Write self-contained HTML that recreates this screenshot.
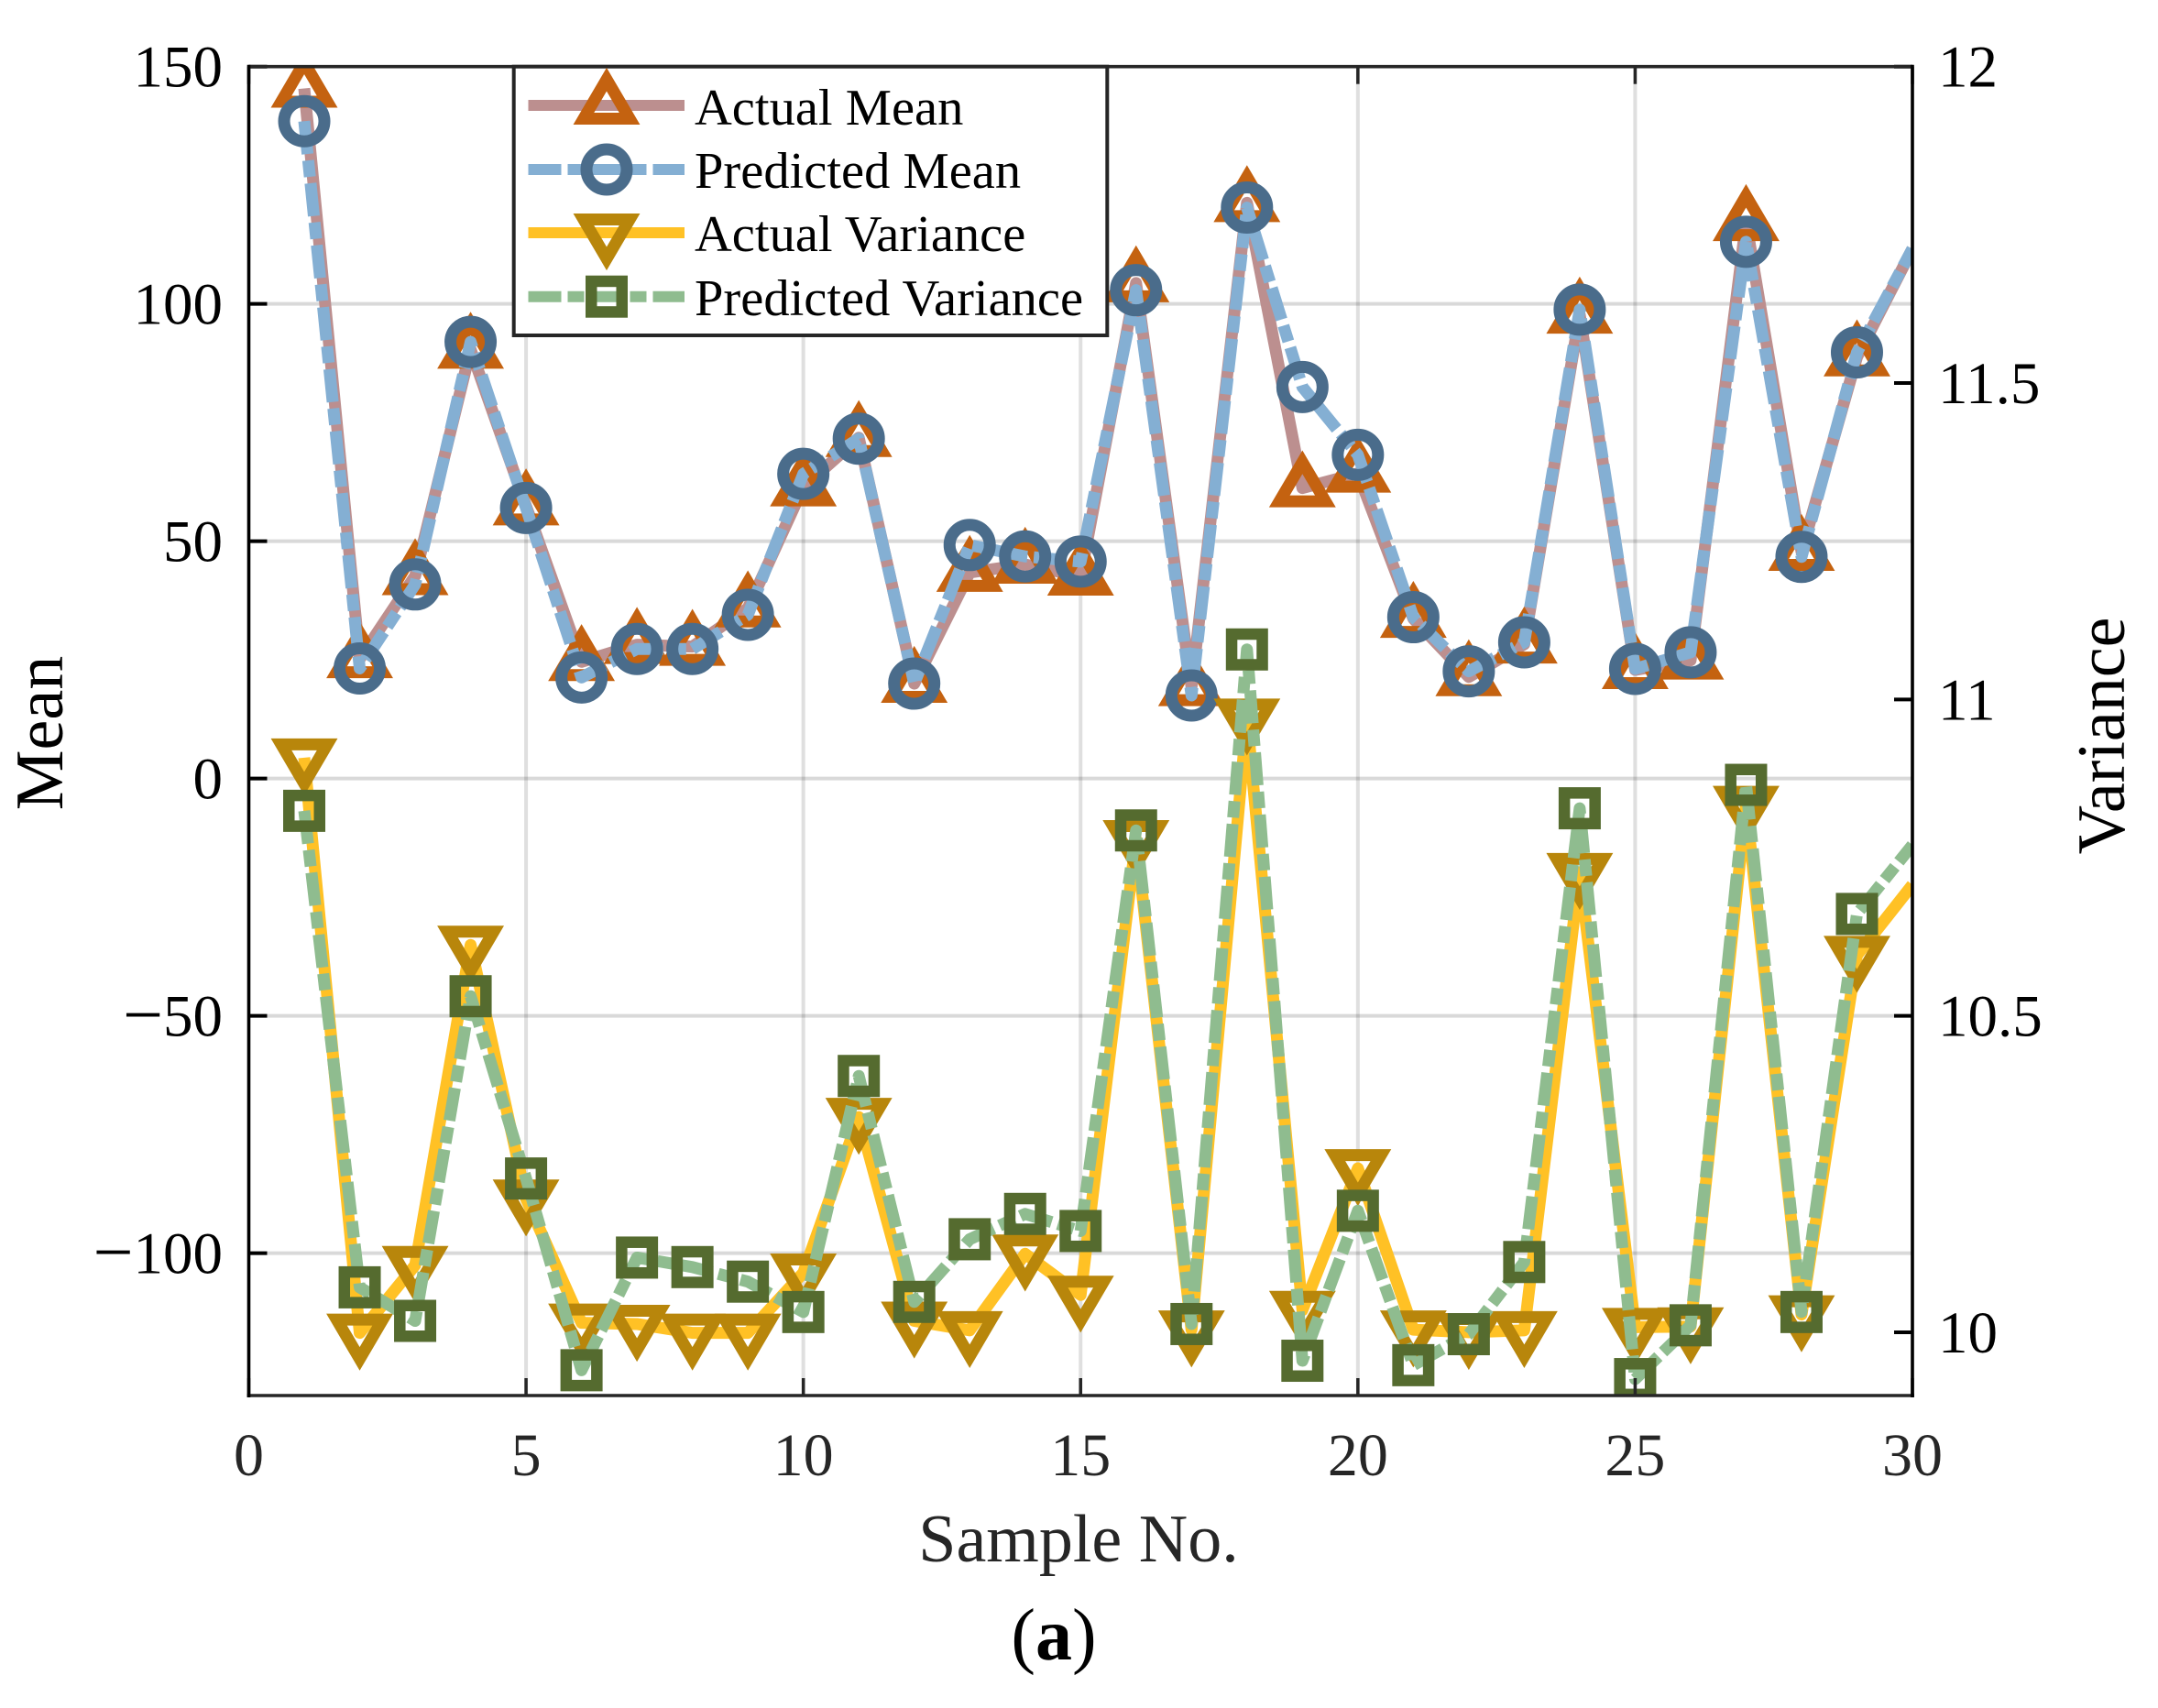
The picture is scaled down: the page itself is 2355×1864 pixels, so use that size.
<!DOCTYPE html>
<html lang="en">
<head>
<meta charset="utf-8">
<title>Mean and Variance by Sample</title>
<style>
html,body{margin:0;padding:0;background:#fff;}
svg{display:block;}
text{font-family:"Liberation Serif",serif;}
</style>
</head>
<body>
<svg id="chart" xmlns="http://www.w3.org/2000/svg" width="2355" height="1864" viewBox="0 0 2355 1864">
  <rect x="0" y="0" width="2355" height="1864" fill="#ffffff"/>
  <defs>
    <clipPath id="plot-clip"><rect x="271.5" y="72.7" width="1815.5" height="1450.3"/></clipPath>
  </defs>
  <g id="grid"></g>
  <g id="series" clip-path="url(#plot-clip)"></g>
  <g id="axes"></g>
  <g>
    <rect x="560.7" y="72.7" width="647.6" height="293.3" fill="#ffffff" stroke="#262626" stroke-width="4"/>
    <g>
      <line x1="576.5" x2="747" y1="115" y2="115" stroke="#bc8f8f" stroke-width="12"/>
      <polygon points="662,86.7 687.1,129.5 636.9,129.5" fill="none" stroke="#c46210" stroke-width="13" stroke-miterlimit="10"/>
      <text x="758" y="136" font-size="56.5" fill="#000">Actual Mean</text>
    </g>
    <g>
      <line x1="576.5" x2="747" y1="185" y2="185" stroke="#84afd3" stroke-width="12" stroke-dasharray="36 7 18 7"/>
      <circle cx="662" cy="185" r="22" fill="none" stroke="#4a6c8b" stroke-width="13"/>
      <text x="758" y="205" font-size="56.5" fill="#000">Predicted Mean</text>
    </g>
    <g>
      <line x1="576.5" x2="747" y1="254" y2="254" stroke="#ffc125" stroke-width="12"/>
      <polygon points="662,282.3 687.1,239.5 636.9,239.5" fill="none" stroke="#b8860b" stroke-width="13" stroke-miterlimit="10"/>
      <text x="758" y="274" font-size="56.5" fill="#000">Actual Variance</text>
    </g>
    <g>
      <line x1="576.5" x2="747" y1="323.7" y2="323.7" stroke="#8fbc8f" stroke-width="12" stroke-dasharray="36 7 18 7"/>
      <rect x="645.25" y="306.95" width="33.5" height="33.5" fill="none" stroke="#556b2f" stroke-width="12.5"/>
      <text x="758" y="344" font-size="56.5" fill="#000">Predicted Variance</text>
    </g>
  </g>
  <text x="1177" y="1704" font-size="74" text-anchor="middle" fill="#262626">Sample No.</text>
  <text transform="translate(68,800) rotate(-90)" font-size="74" text-anchor="middle" fill="#000">Mean</text>
  <text transform="translate(2318,803) rotate(-90)" font-size="74" text-anchor="middle" fill="#000">Variance</text>
  <text x="1150" y="1811" font-size="80" text-anchor="middle" fill="#000">(<tspan font-weight="bold">a</tspan>)</text>
</svg>
<script>
const xTicks = [0, 5, 10, 15, 20, 25, 30];
const meanTicks = [150, 100, 50, 0, -50, -100];
const varianceTicks = [12, 11.5, 11, 10.5, 10];
const varianceTickLabels = ['12', '11.5', '11', '10.5', '10'];
const samples = [1,2,3,4,5,6,7,8,9,10,11,12,13,14,15,16,17,18,19,20,21,22,23,24,25,26,27,28,29,30];
const actualMean = [145.4,25.2,42.7,90.4,57.4,24.6,28.2,27.8,35.9,61.4,71.8,20.0,43.4,45.1,42.6,104.4,19.3,121.3,61.2,64.3,33.7,21.4,28.3,97.8,22.9,24.9,117.3,47.8,88.8,111.6];
const predictedMean = [138.5,23.2,40.9,92.0,57.0,21.3,27.3,27.3,34.5,64.2,71.6,20.0,49.2,46.8,45.7,102.9,17.5,120.3,82.5,68.2,34.0,22.6,28.7,98.8,23.1,26.6,113.1,46.7,89.8,111.6];
const actualVariance = [10.908,9.999,10.106,10.612,10.211,10.015,10.013,9.999,9.999,10.094,10.340,10.018,10.003,10.124,10.059,10.779,10.004,10.971,10.035,10.259,10.004,10.000,10.003,10.727,10.008,10.009,10.833,10.028,10.596,10.707];
const predictedVariance = [10.824,10.071,10.018,10.531,10.243,9.940,10.118,10.103,10.080,10.032,10.405,10.048,10.147,10.187,10.160,10.793,10.013,11.079,9.955,10.192,9.948,9.997,10.111,10.828,9.926,10.011,10.865,10.032,10.661,10.770];

const NS = 'http://www.w3.org/2000/svg';
const plot = {left: 271.5, right: 2087, top: 72.7, bottom: 1523};
const xDomain = [0, 30];
const meanDomain = [-130, 150];
const varianceDomain = [9.9, 12];

function xScale(v) {
  return plot.left + (v - xDomain[0]) / (xDomain[1] - xDomain[0]) * (plot.right - plot.left);
}
function meanScale(v) {
  return plot.bottom - (v - meanDomain[0]) / (meanDomain[1] - meanDomain[0]) * (plot.bottom - plot.top);
}
function varianceScale(v) {
  return plot.bottom - (v - varianceDomain[0]) / (varianceDomain[1] - varianceDomain[0]) * (plot.bottom - plot.top);
}
function make(tag, parent, props) {
  const el = document.createElementNS(NS, tag);
  for (const k in props) {
    el.setAttribute(k, props[k]);
  }
  parent.appendChild(el);
  return el;
}

const gridLayer = document.getElementById('grid');
const axesLayer = document.getElementById('axes');
const seriesLayer = document.getElementById('series');

xTicks.forEach(function (t) {
  const x = xScale(t);
  if (t > xDomain[0] && t < xDomain[1]) {
    const g = make('line', gridLayer, {x1: x, x2: x, y1: plot.top, y2: plot.bottom, stroke: '#262626', 'stroke-opacity': 0.15, 'stroke-width': 4});
    
    
  }
  const tb = make('line', axesLayer, {x1: x, x2: x, y1: plot.bottom, y2: plot.bottom - 19, stroke: '#262626', 'stroke-width': 3.5});
  
  
  const tt = make('line', axesLayer, {x1: x, x2: x, y1: plot.top, y2: plot.top + 19, stroke: '#262626', 'stroke-width': 3.5});
  
  
  const lab = make('text', axesLayer, {x: x, y: 1610, 'font-size': 66, 'text-anchor': 'middle', fill: '#262626'});
  
  
  lab.textContent = String(t);
});

meanTicks.forEach(function (t) {
  const y = meanScale(t);
  if (t > meanDomain[0] && t < meanDomain[1]) {
    const g = make('line', gridLayer, {x1: plot.left, x2: plot.right, y1: y, y2: y, stroke: '#000', 'stroke-opacity': 0.15, 'stroke-width': 4});
    
    
  }
  const tick = make('line', axesLayer, {x1: plot.left, x2: plot.left + 20, y1: y, y2: y, stroke: '#000', 'stroke-width': 4});
  
  
  const lab = make('text', axesLayer, {x: 243, y: y + 22, 'font-size': 65, 'text-anchor': 'end', fill: '#000'});
  
  
  if (t < 0) {
    const minus = make('tspan', lab, {'font-size': 78, dy: 3});
    minus.textContent = '\u2212';
    const digits = make('tspan', lab, {dy: -3});
    digits.textContent = String(Math.abs(t));
  } else {
    lab.textContent = String(t);
  }
});

varianceTicks.forEach(function (t, i) {
  const y = varianceScale(t);
  const tick = make('line', axesLayer, {x1: plot.right - 20, x2: plot.right, y1: y, y2: y, stroke: '#000', 'stroke-width': 4});
  
  
  const lab = make('text', axesLayer, {x: 2115, y: y + 22, 'font-size': 65, fill: '#000'});
  
  
  lab.textContent = varianceTickLabels[i];
});

const frameTop = make('line', axesLayer, {x1: plot.left, x2: plot.right, y1: plot.top, y2: plot.top, stroke: '#262626', 'stroke-width': 3.6});


const frameBottom = make('line', axesLayer, {x1: plot.left - 2, x2: plot.right + 2, y1: plot.bottom, y2: plot.bottom, stroke: '#262626', 'stroke-width': 3.6});


const frameLeft = make('line', axesLayer, {x1: plot.left, x2: plot.left, y1: plot.top - 2, y2: plot.bottom + 2, stroke: '#000', 'stroke-width': 3.6});


const frameRight = make('line', axesLayer, {x1: plot.right, x2: plot.right, y1: plot.top - 2, y2: plot.bottom + 2, stroke: '#000', 'stroke-width': 3.6});



function seriesLine(values, yScale, color, dash, name) {
  const pts = values.map(function (v, i) { return xScale(samples[i]) + ',' + yScale(v); }).join(' ');
  const line = make('polyline', seriesLayer, {points: pts, fill: 'none', stroke: color, 'stroke-width': 13, 'stroke-linejoin': 'round'});
  if (dash) {
    line.setAttribute('stroke-dasharray', dash);
  }
  
  
}
function triangleUp(x, y, color) {
  const m = make('polygon', seriesLayer, {points: x + ',' + (y - 28.3) + ' ' + (x + 25.1) + ',' + (y + 14.5) + ' ' + (x - 25.1) + ',' + (y + 14.5), fill: 'none', stroke: color, 'stroke-width': 13, 'stroke-miterlimit': 10});
  
  
}
function triangleDown(x, y, color) {
  const m = make('polygon', seriesLayer, {points: x + ',' + (y + 28.3) + ' ' + (x + 25.1) + ',' + (y - 14.5) + ' ' + (x - 25.1) + ',' + (y - 14.5), fill: 'none', stroke: color, 'stroke-width': 13, 'stroke-miterlimit': 10});
  
  
}
function ring(x, y, color) {
  const m = make('circle', seriesLayer, {cx: x, cy: y, r: 22, fill: 'none', stroke: color, 'stroke-width': 13});
  
  
}
function box(x, y, color) {
  const m = make('rect', seriesLayer, {x: x - 16.75, y: y - 16.75, width: 33.5, height: 33.5, fill: 'none', stroke: color, 'stroke-width': 12.5});
  
  
}

seriesLine(actualMean, meanScale, '#bc8f8f', null, 'actual-mean-line');
actualMean.forEach(function (v, i) {
  if (samples[i] < 30) { triangleUp(xScale(samples[i]), meanScale(v), '#c46210'); }
});
seriesLine(predictedMean, meanScale, '#84afd3', '36 7 18 7', 'predicted-mean-line');
predictedMean.forEach(function (v, i) {
  if (samples[i] < 30) { ring(xScale(samples[i]), meanScale(v), '#4a6c8b'); }
});
seriesLine(actualVariance, varianceScale, '#ffc125', null, 'actual-variance-line');
actualVariance.forEach(function (v, i) {
  if (samples[i] < 30) { triangleDown(xScale(samples[i]), varianceScale(v), '#b8860b'); }
});
seriesLine(predictedVariance, varianceScale, '#8fbc8f', '36 7 18 7', 'predicted-variance-line');
predictedVariance.forEach(function (v, i) {
  if (samples[i] < 30) { box(xScale(samples[i]), varianceScale(v), '#556b2f'); }
});
</script>
</body>
</html>
